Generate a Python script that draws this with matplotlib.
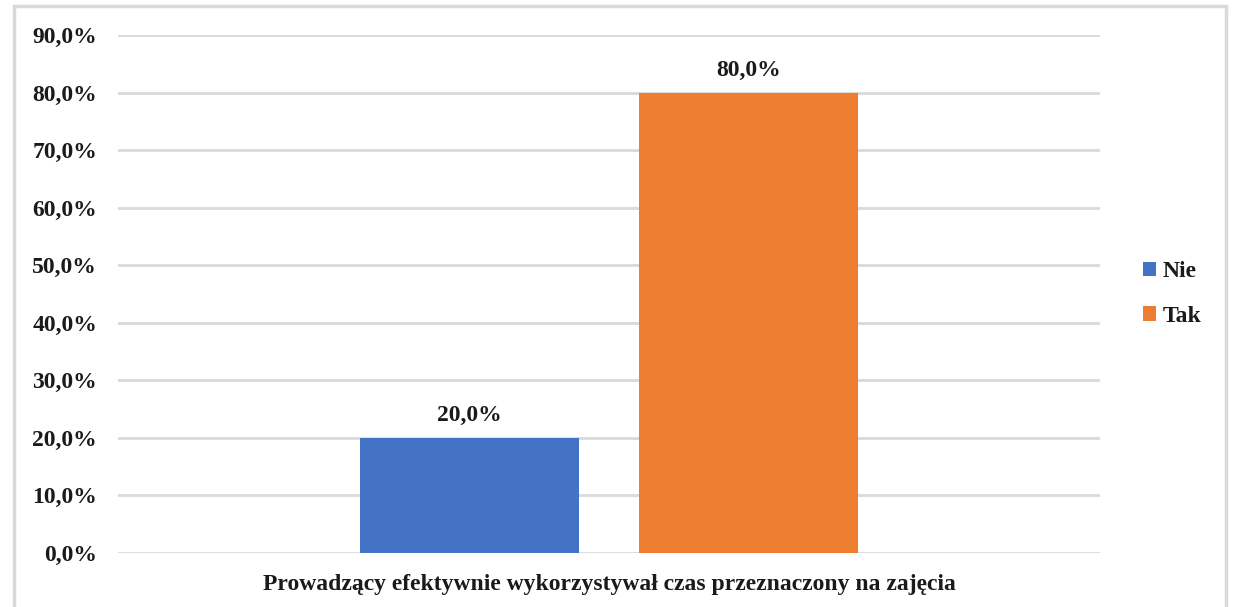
import matplotlib
matplotlib.use("Agg")
import matplotlib.pyplot as plt
from matplotlib.patches import Rectangle

categories = ["Prowadzący efektywnie wykorzystywał czas przeznaczony na zajęcia"]
series_names = ["Nie", "Tak"]
series_values = [20.0, 80.0]
series_colors = ["#4472c4", "#ed7d31"]
yticks = [0, 10, 20, 30, 40, 50, 60, 70, 80, 90]

plt.rcParams["font.family"] = ["Liberation Serif", "DejaVu Serif"]
plt.rcParams["font.weight"] = "bold"

TXT = "#1a1a1a"
fig = plt.figure(figsize=(12.33, 6.07), dpi=100)
ax = fig.add_axes([0.0957, 0.089, 0.7965, 0.853])

# outer chart border (Excel style)
fig.patches.append(Rectangle((0.0115, -0.01), 0.983, 1.0, transform=fig.transFigure,
                             fill=False, edgecolor="#d9d9d9", lw=2.5))

w = 0.223
offsets = [-0.142, 0.142]
for name, val, col, off in zip(series_names, series_values, series_colors, offsets):
    ax.bar(off, val, w, color=col, label=name, zorder=3)
    ax.text(off, val + 2.0, f"{val:.1f}%".replace(".", ","), ha="center", va="bottom",
            fontsize=17, fontweight="bold", color=TXT)

ax.set_xlim(-0.5, 0.5)
ax.set_ylim(0, 90)
ax.set_yticks(yticks)
ax.set_yticklabels([f"{t:.1f}%".replace(".", ",") for t in yticks],
                   fontsize=17, fontweight="bold", color=TXT)
ax.set_xticks([0])
ax.set_xticklabels(categories, fontsize=17, fontweight="bold", color=TXT)
ax.tick_params(axis="both", length=0)
ax.tick_params(axis="y", pad=15)
ax.tick_params(axis="x", pad=15)
ax.grid(axis="y", color="#d9d9d9", lw=2, zorder=0)
ax.set_axisbelow(True)
for s in ax.spines.values():
    s.set_visible(False)

leg = ax.legend(loc="center left", bbox_to_anchor=(1.022, 0.5), frameon=False,
                prop={"family": "Liberation Serif", "weight": "bold", "size": 17},
                handlelength=0.55, handleheight=0.55, handletextpad=0.3, labelspacing=1.0)
for t in leg.get_texts():
    t.set_color(TXT)

fig.savefig("out.png", dpi=100)
